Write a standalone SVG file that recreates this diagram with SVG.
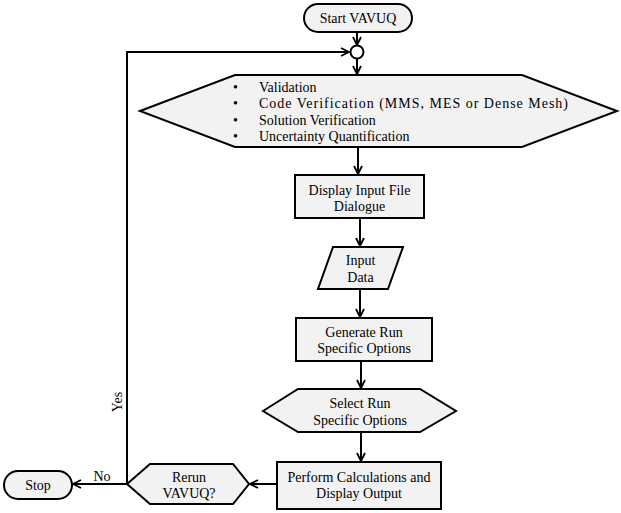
<svg xmlns="http://www.w3.org/2000/svg" width="621" height="513" viewBox="0 0 621 513">
<style>
.n{fill:#f2f2f2;stroke:#000;stroke-width:2;stroke-linejoin:miter}
.t{font-family:"Liberation Serif","Times New Roman",serif;font-size:14px;fill:#000}
.c{text-anchor:middle}
.e{fill:none;stroke:#000;stroke-width:2}
</style>
<defs>
<marker id="a" viewBox="0 0 10 10" refX="9" refY="5" markerWidth="10" markerHeight="10" markerUnits="userSpaceOnUse" orient="auto">
<path d="M1,1 L9,5 L1,9" fill="none" stroke="#000" stroke-width="1.8"/>
</marker>
</defs>
<rect width="621" height="513" fill="#fff"/>
<g id="connectors">
<path class="e" d="M357,32 V45" marker-end="url(#a)"/>
<path class="e" d="M357,59 V74" marker-end="url(#a)"/>
<path class="e" d="M127,484 V52 H349" marker-end="url(#a)"/>
<path class="e" d="M358,147 V174" marker-end="url(#a)"/>
<path class="e" d="M360,218 V246" marker-end="url(#a)"/>
<path class="e" d="M360,289 V317" marker-end="url(#a)"/>
<path class="e" d="M361,361 V388" marker-end="url(#a)"/>
<path class="e" d="M361,432 V461" marker-end="url(#a)"/>
<path class="e" d="M277,484 H250" marker-end="url(#a)"/>
<path class="e" d="M127,484 H73" marker-end="url(#a)"/>
<text class="t c" x="102" y="481">No</text>
<text class="t c" transform="translate(122,402) rotate(-90)">Yes</text>
</g>
<g id="start">
<rect class="n" x="304" y="4" width="108" height="28" rx="14"/>
<text class="t c" x="358" y="23">Start VAVUQ</text>
</g>
<g id="junction">
<circle cx="357" cy="52" r="6.5" fill="#fff" stroke="#000" stroke-width="2"/>
</g>
<g id="options">
<polygon class="n" points="140,111 235,75 522,75 617,111 522,147 235,147"/>
<text class="t" x="233" y="92">•</text>
<text class="t" x="233" y="108">•</text>
<text class="t" x="233" y="125">•</text>
<text class="t" x="233" y="141">•</text>
<text class="t" x="259" y="92">Validation</text>
<text class="t" x="259" y="108" textLength="309" lengthAdjust="spacing">Code Verification (MMS, MES or Dense Mesh)</text>
<text class="t" x="259" y="125">Solution Verification</text>
<text class="t" x="259" y="141">Uncertainty Quantification</text>
</g>
<g id="display">
<rect class="n" x="295" y="175" width="129" height="43"/>
<text class="t c" x="359.5" y="195">Display Input File</text>
<text class="t c" x="359.5" y="211">Dialogue</text>
</g>
<g id="input">
<polygon class="n" points="333,247 403,247 388,289 318,289"/>
<text class="t c" x="360.5" y="265">Input</text>
<text class="t c" x="360.5" y="282">Data</text>
</g>
<g id="generate">
<rect class="n" x="296" y="318" width="136" height="43"/>
<text class="t c" x="364" y="337">Generate Run</text>
<text class="t c" x="364" y="353">Specific Options</text>
</g>
<g id="select">
<polygon class="n" points="263,411 298,389 420,389 456,411 420,432 298,432"/>
<text class="t c" x="360" y="408">Select Run</text>
<text class="t c" x="360" y="425">Specific Options</text>
</g>
<g id="perform">
<rect class="n" x="277" y="462" width="164" height="47"/>
<text class="t c" x="359" y="482">Perform Calculations and</text>
<text class="t c" x="359" y="498">Display Output</text>
</g>
<g id="rerun">
<polygon class="n" points="127,484 150,464 233,464 249,484 233,504 150,504"/>
<text class="t c" x="189" y="482">Rerun</text>
<text class="t c" x="189" y="498">VAVUQ?</text>
</g>
<g id="stop">
<rect class="n" x="4" y="471" width="68" height="28" rx="14"/>
<text class="t c" x="38" y="490">Stop</text>
</g>
</svg>
